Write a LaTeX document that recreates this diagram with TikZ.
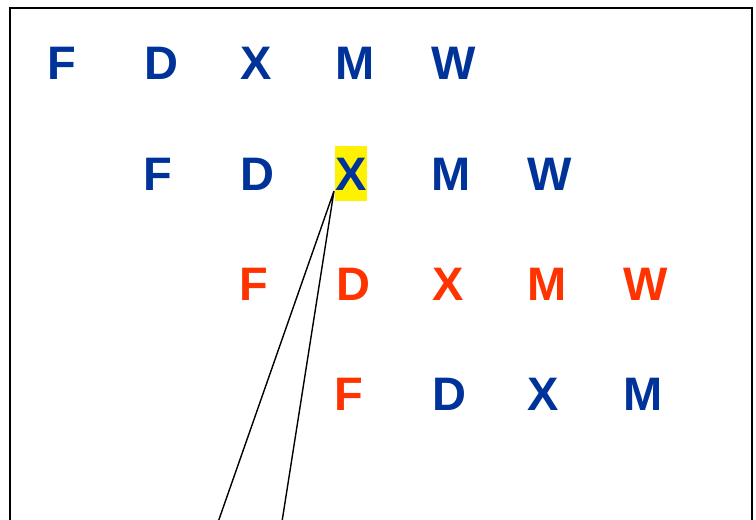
\documentclass[tikz,border=0pt]{standalone}
\usepackage{fontspec}
\setmainfont{Liberation Sans}
\definecolor{lblue}{HTML}{003399}
\definecolor{lred}{HTML}{FF3300}
\definecolor{hl}{HTML}{FFF200}
\begin{document}
\begin{tikzpicture}[x=1pt,y=1pt,
  ltr/.style={font=\fontsize{47}{47}\selectfont\bfseries, inner sep=0pt, anchor=center},
  bl/.style={ltr, text=lblue},
  rd/.style={ltr, text=lred}]
\useasboundingbox (0,0) rectangle (756,520);
\clip (0,0) rectangle (756,520);
\fill[white] (0,0) rectangle (756,520);
\draw[line width=1.8pt] (10,-20) -- (10,512) -- (752,512) -- (752,-20);
% row 1
\node[bl] (a1) at (62,457) {F};
\node[bl] (a2) at (161,457) {D};
\node[bl] (a3) at (256,457) {X};
\node[bl] (a4) at (355,457) {M};
\node[bl] (a5) at (453.5,457) {W};
% row 2
\fill[hl] (334.5,318.5) rectangle (367,374) coordinate (hlbox);
\node[bl] (b1) at (158,346) {F};
\node[bl] (b2) at (257,346) {D};
\node[bl] (b3) at (351,346) {X};
\node[bl] (b4) at (451,346) {M};
\node[bl] (b5) at (550,346) {W};
% row 3
\node[rd] (c1) at (254,236) {F};
\node[rd] (c2) at (353,236) {D};
\node[rd] (c3) at (448,236) {X};
\node[rd] (c4) at (547,236) {M};
\node[rd] (c5) at (646,236) {W};
% row 4
\node[rd] (d1) at (349,125.5) {F};
\node[bl] (d2) at (449,125.5) {D};
\node[bl] (d3) at (543,125.5) {X};
\node[bl] (d4) at (643,125.5) {M};
% connectors
\coordinate (tip) at (334,329);
\coordinate (e1) at (216,-8);
\coordinate (e2) at (281,-8);
\draw[line width=1.4pt] (e1) -- (tip) -- (e2);
\end{tikzpicture}
\end{document}
